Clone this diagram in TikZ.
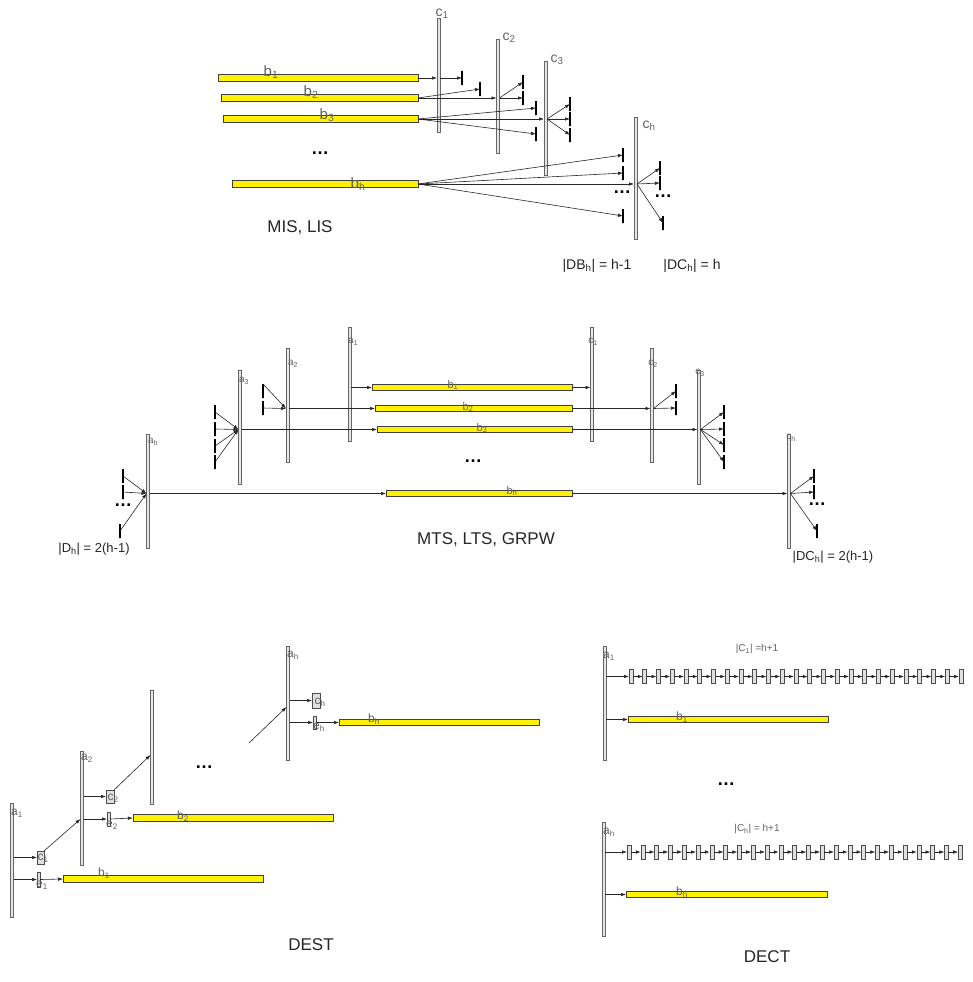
\documentclass[tikz,border=0pt]{standalone}
\usepackage{fontspec}
\setmainfont{Liberation Sans}
\usetikzlibrary{arrows.meta}

\begin{document}
\begin{tikzpicture}[x=1pt,y=-1pt,
    >={Latex[length=5pt,width=3.5pt]},
    link/.style={->,line width=.6pt,black!85},
    bus/.style={draw=black!75,fill=yellow,line width=.6pt,minimum width=#1,
      minimum height=6.5pt,inner sep=0pt,outer sep=0pt,anchor=east},
    rail/.style={draw=black!60,fill=black!10,line width=.7pt,minimum width=3pt,
      minimum height=#1,inner sep=0pt,outer sep=0pt},
    rail/.default=114pt,
    endtick/.style={draw=black,line width=1.1pt,minimum width=0pt,
      minimum height=14pt,inner sep=0pt,outer sep=0pt},
    cellbox/.style={draw=black!70,fill=black!12,line width=.6pt,minimum width=4pt,
      minimum height=14pt,inner sep=0pt,outer sep=0pt},
    lbl/.style={text=black!62,inner sep=0pt,font=\fontsize{#1}{#1}\selectfont},
    lbl/.default=10,
    dots/.style={inner sep=0pt,font=\fontsize{18}{18}\bfseries},
    title/.style={text=black!85,inner sep=0pt,font=\fontsize{17}{20}\selectfont}]
  \useasboundingbox (0,0) rectangle (973,982);

  % MIS, LIS
  \node[bus=200pt] (tb1) at (418,78) {};
  \node[bus=197pt] (tb2) at (418,98) {};
  \node[bus=195pt] (tb3) at (418,119) {};
  \node[bus=186pt] (tbh) at (418,184) {};
  \node[rail] (tc1) at (438.5,75.5) {};
  \node[rail] (tc2) at (498,96) {};
  \node[rail] (tc3) at (545.5,118.5) {};
  \node[rail=122pt] (tch) at (635.5,178) {};
  \node[endtick] (s11) at (462,78) {};
  \node[endtick] (s21) at (480,89) {};
  \node[endtick] (s22) at (523,82) {};
  \node[endtick] (s23) at (523,98) {};
  \node[endtick] (s31) at (536,108) {};
  \node[endtick] (s32) at (536,134) {};
  \node[endtick] (s33) at (570,104) {};
  \node[endtick] (s34) at (570,119) {};
  \node[endtick] (s35) at (570,135) {};
  \node[endtick] (s41) at (623,155) {};
  \node[endtick] (s42) at (623,173) {};
  \node[endtick] (s43) at (623,216) {};
  \node[endtick] (s44) at (660,168) {};
  \node[endtick] (s45) at (660,183) {};
  \node[endtick] (s46) at (663,223) {};
  \path[link] (tb1.east) edge (tc1.west |- tb1.east)
    (tc1.east |- tb1.east) edge (s11.center)
    (tb2.east) edge (s21.center)
    (tb2.east) edge (tc2.west |- tb2.east)
    (tc2.east |- tb2.east) edge (s22.center)
    (tc2.east |- tb2.east) edge (s23.center)
    (tb3.east) edge (s31.center)
    (tb3.east) edge (tc3.west |- tb3.east)
    (tb3.east) edge (s32.center)
    (tc3.east |- tb3.east) edge (s33.center)
    (tc3.east |- tb3.east) edge (s34.center)
    (tc3.east |- tb3.east) edge (s35.center)
    (tbh.east) edge (s41.center)
    (tbh.east) edge (s42.center)
    (tbh.east) edge (tch.west |- tbh.east)
    (tbh.east) edge (s43.center)
    (tch.east |- tbh.east) edge (s44.center)
    (tch.east |- tbh.east) edge (s45.center)
    (tch.east |- tbh.east) edge (s46.center);
  \node[lbl=14] (tlc1) at (442,14) {c\textsubscript{1}};
  \node[lbl=14] (tlc2) at (509,38) {c\textsubscript{2}};
  \node[lbl=14] (tlc3) at (557,60) {c\textsubscript{3}};
  \node[lbl=14] (tlch) at (649,126) {c\textsubscript{h}};
  \node[lbl=15] (tlb1) at (271,72) {b\textsubscript{1}};
  \node[lbl=15] (tlb2) at (311,92) {b\textsubscript{2}};
  \node[lbl=15] (tlb3) at (327,115) {b\textsubscript{3}};
  \node[lbl=15] (tlbh) at (358,184) {b\textsubscript{h}};
  \node[dots] (td1) at (320,153) {\ldots};
  \node[dots] (td2) at (622,192) {\ldots};
  \node[dots] (td3) at (663,196) {\ldots};
  \node[title] (tname) at (300,228) {MIS, LIS};
  \node[lbl=14,text=black!85] (tdb) at (597,266) {|DB\textsubscript{h}| = h-1};
  \node[lbl=14,text=black!85] (tdc) at (692,266) {|DC\textsubscript{h}| = h};

  % MTS, LTS, GRPW
  \node[rail] (ma1) at (349.5,384) {};
  \node[rail] (ma2) at (287.5,405) {};
  \node[rail] (ma3) at (240,427.5) {};
  \node[rail] (mah) at (148,491.5) {};
  \node[bus=200pt] (mb1) at (572,387.5) {};
  \node[bus=197pt] (mb2) at (572,408.5) {};
  \node[bus=195pt] (mb3) at (572,429.5) {};
  \node[bus=186pt] (mbh) at (572,493.5) {};
  \node[rail] (mc1) at (592,384) {};
  \node[rail] (mc2) at (652,405) {};
  \node[rail] (mc3) at (699,427) {};
  \node[rail] (mch) at (789,491.5) {};
  \node[endtick] (n21) at (263,391) {};
  \node[endtick] (n22) at (263,408) {};
  \node[endtick] (n31) at (215,412) {};
  \node[endtick] (n32) at (215,429) {};
  \node[endtick] (n33) at (215,446) {};
  \node[endtick] (n34) at (215,462) {};
  \node[endtick] (n41) at (123,476) {};
  \node[endtick] (n42) at (123,492) {};
  \node[endtick] (n43) at (120,531) {};
  \node[endtick] (p21) at (676,391) {};
  \node[endtick] (p22) at (676,408) {};
  \node[endtick] (p31) at (724,412) {};
  \node[endtick] (p32) at (724,429) {};
  \node[endtick] (p33) at (724,445) {};
  \node[endtick] (p34) at (724,462) {};
  \node[endtick] (p41) at (814,476) {};
  \node[endtick] (p42) at (814,492) {};
  \node[endtick] (p43) at (817,531) {};
  \path[link] (n21.north) edge (ma2.west |- mb2.west)
    (n22.center) edge (ma2.west |- mb2.west)
    (n31.center) edge (ma3.west |- mb3.west)
    (n32.center) edge (ma3.west |- mb3.west)
    (n33.center) edge (ma3.west |- mb3.west)
    (n34.center) edge (ma3.west |- mb3.west)
    (n41.center) edge (mah.west |- mbh.west)
    (n42.center) edge (mah.west |- mbh.west)
    (n43.center) edge (mah.west |- mbh.west)
    (ma1.east |- mb1.west) edge (mb1.west)
    (ma2.east |- mb2.west) edge (mb2.west)
    (ma3.east |- mb3.west) edge (mb3.west)
    (mah.east |- mbh.west) edge (mbh.west)
    (mb1.east) edge (mc1.west |- mb1.east)
    (mb2.east) edge (mc2.west |- mb2.east)
    (mb3.east) edge (mc3.west |- mb3.east)
    (mbh.east) edge (mch.west |- mbh.east)
    (mc2.east |- mb2.east) edge (p21.center)
    (mc2.east |- mb2.east) edge (p22.center)
    (mc3.east |- mb3.east) edge (p31.center)
    (mc3.east |- mb3.east) edge (p32.center)
    (mc3.east |- mb3.east) edge (p33.center)
    (mc3.east |- mb3.east) edge (p34.center)
    (mch.east |- mbh.east) edge (p41.center)
    (mch.east |- mbh.east) edge (p42.center)
    (mch.east |- mbh.east) edge (p43.center);
  \node[lbl] (mla1) at (353,342) {a\textsubscript{1}};
  \node[lbl] (mla2) at (293,364) {a\textsubscript{2}};
  \node[lbl] (mla3) at (244,381) {a\textsubscript{3}};
  \node[lbl] (mlah) at (153,442) {a\textsubscript{h}};
  \node[lbl] (mlc1) at (593,342) {c\textsubscript{1}};
  \node[lbl] (mlc2) at (653,364) {c\textsubscript{2}};
  \node[lbl] (mlc3) at (700,373) {c\textsubscript{3}};
  \node[lbl] (mlch) at (791,438) {c\textsubscript{h}};
  \node[lbl=11] (mlb1) at (453,385) {b\textsubscript{1}};
  \node[lbl=11] (mlb2) at (468,407) {b\textsubscript{2}};
  \node[lbl=11] (mlb3) at (482,428) {b\textsubscript{3}};
  \node[lbl=11] (mlbh) at (512,491) {b\textsubscript{h}};
  \node[dots] (md1) at (473,461) {\ldots};
  \node[dots] (md2) at (123,505) {\ldots};
  \node[dots] (md3) at (817,504) {\ldots};
  \node[title] (mname) at (486,540) {MTS, LTS, GRPW};
  \node[lbl=13,text=black!85] (mdd) at (94,549) {|D\textsubscript{h}| = 2(h-1)};
  \node[lbl=13,text=black!85] (mdc) at (833,557) {|DC\textsubscript{h}| = 2(h-1)};

  % DEST
  \node[rail] (da1) at (12,860) {};
  \node[rail] (da2) at (82,808.5) {};
  \node[rail] (da3) at (152,747.5) {};
  \node[rail] (dah) at (288,703.5) {};
  \node[cellbox,minimum width=7pt,minimum height=13pt] (dc1) at (40.5,857.5) {};
  \node[cellbox,minimum width=3pt,minimum height=15pt] (de1) at (38.5,879.5) {};
  \node[cellbox,minimum width=8pt,minimum height=13pt] (dc2) at (110,796.5) {};
  \node[cellbox,minimum width=3pt,minimum height=14pt] (de2) at (108.5,819) {};
  \node[cellbox,minimum width=8pt,minimum height=15pt] (dch) at (316,700.5) {};
  \node[cellbox,minimum width=3pt,minimum height=13pt] (deh) at (314.5,722.5) {};
  \node[bus=200pt] (db1) at (263,879) {};
  \node[bus=200pt] (db2) at (333,818) {};
  \node[bus=200pt] (dbh) at (539,722.5) {};
  \coordinate (din) at (249,743);
  \path[link] (da1.east |- dc1.west) edge (dc1.west)
    (da1.east |- de1.west) edge (de1.west)
    (de1.east) edge (db1.west)
    (dc1.north east) edge (da2.west |- de2.west)
    (da2.east |- dc2.west) edge (dc2.west)
    (da2.east |- de2.west) edge (de2.west)
    (de2.east) edge (db2.west)
    (dc2.north east) edge ([yshift=-7.5pt]da3.west)
    (din) edge ([yshift=-3.5pt]dah.west)
    (dah.east |- dch.west) edge (dch.west)
    (dah.east |- deh.west) edge (deh.west)
    (deh.east) edge (dbh.west);
  \node[lbl=12] (dla1) at (17,813) {a\textsubscript{1}};
  \node[lbl=12] (dla2) at (87,758) {a\textsubscript{2}};
  \node[lbl=12] (dlah) at (293,655) {a\textsubscript{h}};
  \node[lbl=12] (dlc1) at (43,858) {c\textsubscript{1}};
  \node[lbl=12] (dle1) at (42,885) {e\textsubscript{1}};
  \node[lbl=12] (dlc2) at (113,798) {c\textsubscript{2}};
  \node[lbl=12] (dle2) at (112,825) {e\textsubscript{2}};
  \node[lbl=12] (dlch) at (320,702) {c\textsubscript{h}};
  \node[lbl=12] (dleh) at (319,727) {e\textsubscript{h}};
  \node[lbl=12] (dlb1) at (104,873) {b\textsubscript{1}};
  \node[lbl=12] (dlb2) at (183,816) {b\textsubscript{2}};
  \node[lbl=12] (dlbh) at (374,719) {b\textsubscript{h}};
  \node[dots] (dd1) at (204,767) {\ldots};
  \node[title] (dname) at (311,945) {DEST};

  % DECT
  \node[rail] (ra1) at (604.5,703.5) {};
  \node[rail] (rah) at (603.5,879.5) {};
  \foreach \i in {1,...,25}
    \node[cellbox] (u\i) at ({631+13.75*(\i-1)},676.5) {};
  \foreach \i in {1,...,25}
    \node[cellbox] (v\i) at ({629+13.8*(\i-1)},852) {};
  \node[bus=200pt] (rb1) at (828,719.5) {};
  \node[bus=201pt] (rbh) at (827,894.5) {};
  \path[link] (ra1.east |- u1.west) edge (u1.west)
    (ra1.east |- rb1.west) edge (rb1.west)
    (rah.east |- v1.west) edge (v1.west)
    (rah.east |- rbh.west) edge (rbh.west);
  \foreach \i [count=\j from 2] in {1,...,24}
    \path[link] (u\i.east) edge (u\j.west) (v\i.east) edge (v\j.west);
  \node[lbl=12] (rla1) at (609,656) {a\textsubscript{1}};
  \node[lbl=12] (rlah) at (609,832) {a\textsubscript{h}};
  \node[lbl=12] (rlb1) at (682,717) {b\textsubscript{1}};
  \node[lbl=12] (rlbh) at (682,892) {b\textsubscript{h}};
  \node[lbl] (rc1) at (757,649) {|C\textsubscript{1}| =h+1};
  \node[lbl] (rch) at (757,829) {|C\textsubscript{h}| = h+1};
  \node[dots] (rd1) at (726,784) {\ldots};
  \node[title] (rname) at (767,957) {DECT};
\end{tikzpicture}
\end{document}
